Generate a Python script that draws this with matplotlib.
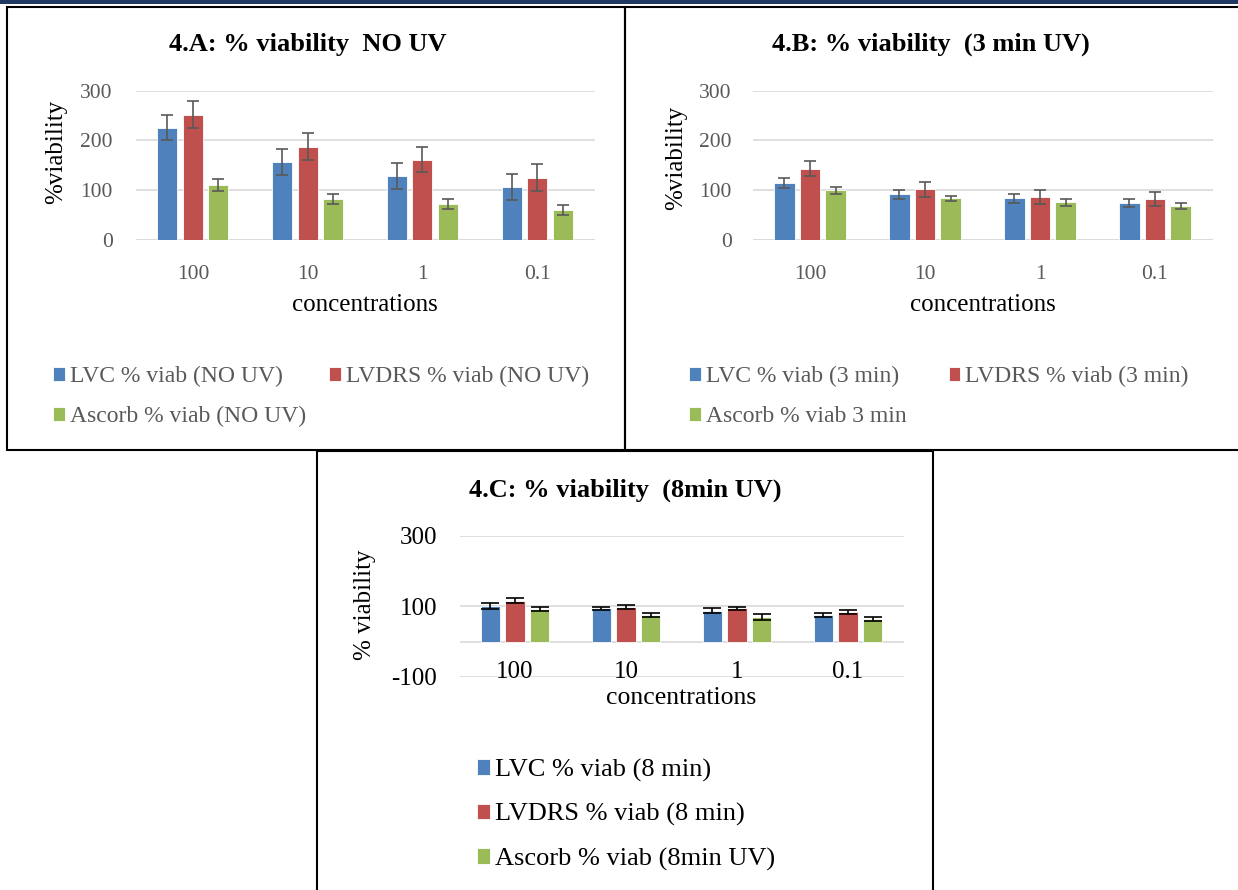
import numpy as np
import matplotlib
matplotlib.use('Agg')
import matplotlib.pyplot as plt
from matplotlib.patches import Rectangle

# |==============| Daten |==============|
concentrations = ['100', '10', '1', '0.1']

# 4.A - NO UV
lvc_a = [226, 156, 128, 107]
lvc_a_err = [25, 26, 26, 26]
lvdrs_a = [252, 187, 161, 125]
lvdrs_a_err = [27, 27, 25, 27]
asc_a = [110, 82, 72, 61]
asc_a_err = [12, 10, 10, 10]

# 4.B - 3 min UV
lvc_b = [115, 92, 84, 74]
lvc_b_err = [10, 9, 9, 8]
lvdrs_b = [143, 102, 87, 82]
lvdrs_b_err = [15, 15, 14, 14]
asc_b = [100, 84, 76, 68]
asc_b_err = [7, 5, 7, 6]

# 4.C - 8 min UV
lvc_c = [101, 94, 88, 76]
lvc_c_err = [8, 5, 6, 6]
lvdrs_c = [116, 98, 94, 83]
lvdrs_c_err = [7, 6, 5, 6]
asc_c = [93, 76, 69, 65]
asc_c_err = [6, 6, 8, 6]

labels_a = ['LVC % viab (NO UV)', 'LVDRS % viab (NO UV)', 'Ascorb % viab (NO UV)']
labels_b = ['LVC % viab (3 min)', 'LVDRS % viab (3 min)', 'Ascorb % viab 3 min']
labels_c = ['LVC % viab (8 min)', 'LVDRS % viab (8 min)', 'Ascorb % viab (8min UV)']

# |==============| Einstellungen |==============|
plt.rcParams['font.family'] = ['Liberation Serif', 'DejaVu Serif']
plt.rcParams['axes.unicode_minus'] = False
W, H = 1238, 890
colors = ['#4F81BD', '#C0504D', '#9BBB59']
grid_c = '#D9D9D9'
gray_txt = '#595959'

fig = plt.figure(figsize=(W / 100, H / 100), dpi=100)


def fx(x):
    return x / W


def fy(y):
    return 1 - y / H


def axes_px(left, top, right, bottom):
    return fig.add_axes([fx(left), fy(bottom), (right - left) / W, (bottom - top) / H])


def box_px(left, top, right, bottom, lw=1.5):
    fig.patches.append(Rectangle((fx(left), fy(bottom)), (right - left) / W, (bottom - top) / H,
                                 transform=fig.transFigure, fill=False, edgecolor='black',
                                 linewidth=lw, zorder=0))


# obere Leiste + Rahmen
fig.patches.append(Rectangle((0, fy(3.5)), 1, 3.5 / H, transform=fig.transFigure,
                             facecolor='#1F3864', edgecolor='none'))
box_px(6.5, 7.5, 625, 450)
box_px(625, 7.5, 1240, 450)
box_px(316.5, 451, 933, 895)


def panel(ax, series, errs, labels, ylim, yticks, txt_col, err_col, capsize, fs):
    x = np.arange(len(concentrations))
    w = 0.175
    step = 0.222
    bars = []
    for k in range(3):
        b = ax.bar(x + (k - 1) * step, series[k], w, color=colors[k], edgecolor='white',
                   linewidth=0.6, label=labels[k], zorder=2)
        bars.append(b)
        ax.errorbar(x + (k - 1) * step, series[k], yerr=errs[k], fmt='none',
                    ecolor=err_col, elinewidth=1.2, capsize=capsize, capthick=1.2, zorder=3)
    ax.set_xlim(-0.5, len(concentrations) - 0.5)
    ax.set_ylim(*ylim)
    ax.set_yticks(yticks)
    for s in ax.spines.values():
        s.set_visible(False)
    ax.grid(axis='y', color=grid_c, linewidth=1.2, zorder=0)
    ax.set_axisbelow(True)
    ax.axhline(0, color=grid_c, linewidth=1.2, zorder=1)
    ax.tick_params(axis='both', length=0, labelsize=fs, labelcolor=txt_col)
    return bars


leg_kw = dict(frameon=False, handlelength=0.5, handleheight=0.55, handletextpad=0.2,
              borderpad=0, borderaxespad=0, bbox_transform=fig.transFigure)

# |==============| 4.A |==============|
ax_a = axes_px(135.5, 90.7, 594.5, 240)
bars = panel(ax_a, [lvc_a, lvdrs_a, asc_a], [lvc_a_err, lvdrs_a_err, asc_a_err], labels_a,
             (0, 300), [0, 100, 200, 300], gray_txt, '#595959', 4.5, 15.5)
ax_a.set_xticks(np.arange(4))
ax_a.set_xticklabels(concentrations)
ax_a.tick_params(axis='x', pad=18)
ax_a.tick_params(axis='y', pad=16.5)
fig.text(fx(308), fy(44), '4.A: % viability  NO UV', ha='center', va='center',
         fontsize=19, fontweight='bold')
fig.text(fx(56), fy(152), '%viability', rotation=90, ha='center', va='center', fontsize=18)
fig.text(fx(365), fy(305), 'concentrations', ha='center', va='center', fontsize=18)
ax_a.legend([bars[0], bars[2], bars[1]], [labels_a[0], labels_a[2], labels_a[1]],
            loc='upper left', bbox_to_anchor=(fx(53), fy(366)), ncol=2, fontsize=17,
            labelcolor=gray_txt, columnspacing=1.0, labelspacing=0.8, **leg_kw)

# |==============| 4.B |==============|
ax_b = axes_px(752.5, 90.7, 1212.5, 240)
bars = panel(ax_b, [lvc_b, lvdrs_b, asc_b], [lvc_b_err, lvdrs_b_err, asc_b_err], labels_b,
             (0, 300), [0, 100, 200, 300], gray_txt, '#595959', 4.5, 15.5)
ax_b.set_xticks(np.arange(4))
ax_b.set_xticklabels(concentrations)
ax_b.tick_params(axis='x', pad=18)
ax_b.tick_params(axis='y', pad=15)
fig.text(fx(931), fy(44), '4.B: % viability  (3 min UV)', ha='center', va='center',
         fontsize=19, fontweight='bold')
fig.text(fx(676), fy(158), '%viability', rotation=90, ha='center', va='center', fontsize=18)
fig.text(fx(982.5), fy(305), 'concentrations', ha='center', va='center', fontsize=18)
ax_b.legend([bars[0], bars[2], bars[1]], [labels_b[0], labels_b[2], labels_b[1]],
            loc='upper left', bbox_to_anchor=(fx(689), fy(366)), ncol=2, fontsize=17,
            labelcolor=gray_txt, columnspacing=1.8, labelspacing=0.8, **leg_kw)

# |==============| 4.C |==============|
ax_c = axes_px(459.5, 536, 903.5, 676.7)
bars = panel(ax_c, [lvc_c, lvdrs_c, asc_c], [lvc_c_err, lvdrs_c_err, asc_c_err], labels_c,
             (-100, 300), [-100, 100, 300], 'black', 'black', 6.5, 18)
ax_c.set_xticks([])
for i, c in enumerate(concentrations):
    ax_c.text(i, 0.03, c, transform=ax_c.get_xaxis_transform(), ha='center', va='center',
              fontsize=18)
ax_c.tick_params(axis='y', pad=16)
fig.text(fx(625), fy(490), '4.C: % viability  (8min UV)', ha='center', va='center',
         fontsize=19, fontweight='bold')
fig.text(fx(365), fy(605), '% viability', rotation=90, ha='center', va='center', fontsize=18)
fig.text(fx(681.5), fy(698), 'concentrations', ha='center', va='center', fontsize=18.5)
ax_c.legend(loc='upper left', bbox_to_anchor=(fx(477), fy(759)), ncol=1, fontsize=19,
            labelspacing=0.8, **leg_kw)

fig.savefig('out.png', dpi=100)
